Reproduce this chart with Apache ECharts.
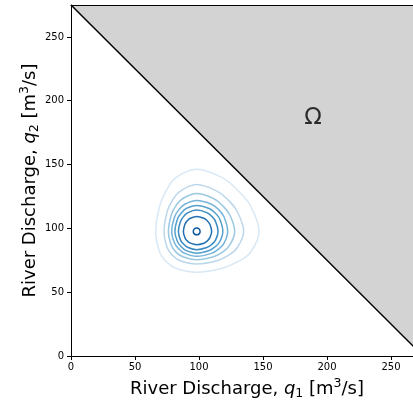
<!DOCTYPE html>
<html>
<head>
<meta charset="utf-8">
<script src="https://cdn.jsdelivr.net/npm/echarts@6/dist/echarts.min.js"></script>
<style>html,body{margin:0;padding:0;background:#fff;}#c{width:413px;height:405px;}</style>
</head>
<body>
<div id="c"></div>
<script>
// ---- data ----
const tickValues = [0, 50, 100, 150, 200, 250];
const axisMax = 275;
const boundary = [[0, 275], [275, 0]];           // q1 + q2 = 275
const omegaPos = [189, 186.5];
const omegaText = 'Ω';

// contour rings (outermost -> innermost), points in [q1, q2]
const ring1 = [[146.9,97.6],[140.3,117.5],[130.3,129.7],[118.1,139.7],[98.2,146.3],[81.9,139.7],[74.5,129.7],[69.3,117.5],[66.2,97.6],[69.3,81.3],[74.5,73.9],[81.9,68.7],[98.2,65.6],[118.1,68.7],[130.3,73.9],[140.3,81.3]];
const ring2 = [[134.9,97.6],[129.8,113.4],[122.8,122.2],[114.0,129.2],[98.2,134.3],[85.4,129.2],[79.4,122.2],[75.2,113.4],[72.7,97.6],[75.2,84.8],[79.4,78.8],[85.4,74.6],[98.2,72.1],[114.0,74.6],[122.8,78.8],[129.8,84.8]];
const ring3 = [[127.9,97.6],[124.0,110.7],[118.4,117.8],[111.3,123.4],[98.2,127.3],[87.4,123.4],[82.0,117.8],[78.4,110.7],[76.1,97.6],[78.4,86.8],[82.0,81.4],[87.4,77.8],[98.2,75.5],[111.3,77.8],[118.4,81.4],[124.0,86.8]];
const ring4 = [[122.4,97.6],[119.5,109.1],[115.3,114.7],[109.7,118.9],[98.2,121.8],[88.9,118.9],[84.4,114.7],[81.0,109.1],[78.7,97.6],[81.0,88.3],[84.4,83.8],[88.9,80.4],[98.2,78.1],[109.7,80.4],[115.3,83.8],[119.5,88.3]];
const ring5 = [[118.6,97.6],[116.2,107.3],[112.6,112.0],[107.9,115.6],[98.2,118.0],[90.1,115.6],[86.2,112.0],[83.2,107.3],[81.2,97.6],[83.2,89.5],[86.2,85.6],[90.1,82.6],[98.2,80.6],[107.9,82.6],[112.6,85.6],[116.2,89.5]];
const ring6 = [[114.9,97.6],[112.9,105.5],[110.0,109.4],[106.1,112.3],[98.2,114.3],[91.4,112.3],[88.1,109.4],[85.6,105.5],[83.9,97.6],[85.6,90.8],[88.1,87.5],[91.4,85.0],[98.2,83.3],[106.1,85.0],[110.0,87.5],[112.9,90.8]];
const ring7 = [[109.9,97.6],[108.5,103.2],[106.5,105.9],[103.8,107.9],[98.2,109.3],[93.3,107.9],[90.8,105.9],[89.0,103.2],[87.8,97.6],[89.0,92.7],[90.8,90.2],[93.3,88.4],[98.2,87.2],[103.8,88.4],[106.5,90.2],[108.5,92.7]];
const ring8 = [[100.85,97.6],[100.1,99.5],[98.2,100.25],[96.3,99.5],[95.55,97.6],[96.3,95.7],[98.2,94.95],[100.1,95.7]];
const rings = [ring1, ring2, ring3, ring4, ring5, ring6, ring7, ring8];
const ringColors = ['#d9e8f5','#bcd7eb','#9ac8e0','#75b4d8','#56a0ce','#3a8ac2','#2171b5','#0d57a1'];

// closed Catmull-Rom path through pixel points
function closedSplinePath(pts) {
  const n = pts.length;
  let d = 'M' + pts[0][0] + ' ' + pts[0][1];
  for (let i = 0; i < n; i++) {
    const p0 = pts[(i - 1 + n) % n], p1 = pts[i], p2 = pts[(i + 1) % n], p3 = pts[(i + 2) % n];
    const c1x = p1[0] + (p2[0] - p0[0]) / 6, c1y = p1[1] + (p2[1] - p0[1]) / 6;
    const c2x = p2[0] - (p3[0] - p1[0]) / 6, c2y = p2[1] - (p3[1] - p1[1]) / 6;
    d += 'C' + c1x + ' ' + c1y + ' ' + c2x + ' ' + c2y + ' ' + p2[0] + ' ' + p2[1];
  }
  return d + 'Z';
}

// ---- chart ----
const FF = 'DejaVu Sans';
const nameRich = {
  q: {fontSize: 18, fontStyle: 'italic', fontFamily: FF, color: '#000'},
  sub: {fontSize: 12.5, padding: [8, 0, 0, 0], fontFamily: FF, color: '#000'},
  sup: {fontSize: 12.5, padding: [0, 0, 12, 0], fontFamily: FF, color: '#000'}
};
const chart = echarts.init(document.getElementById('c'), null, {renderer: 'canvas'});
const axisCommon = {
  type: 'value', min: 0, max: axisMax, interval: 50, z: 5,
  splitLine: {show: false},
  axisLine: {show: true, onZero: false, lineStyle: {color: '#000', width: 1}},
  axisTick: {show: true, length: 4, customValues: tickValues, lineStyle: {color: '#000', width: 1}},
  axisLabel: {customValues: tickValues, fontSize: 10, fontFamily: FF, color: '#000'},
  nameLocation: 'middle',
  nameMoveOverlap: false,
  nameTextStyle: {fontSize: 18, fontFamily: FF, color: '#000', rich: nameRich}
};
chart.setOption({
  animation: false,
  backgroundColor: '#fff',
  grid: {left: 71, width: 352, top: 5, bottom: 49, containLabel: false, outerBoundsMode: 'none'},
  xAxis: [
    Object.assign({}, axisCommon, {
      position: 'bottom',
      name: 'River Discharge, {q|q}{sub|1} [m{sup|3}/s]',
      nameGap: 21,
      axisLabel: Object.assign({}, axisCommon.axisLabel, {margin: 6})
    }),
    {type: 'value', min: 0, max: axisMax, position: 'top', z: 5,
     axisLine: {show: true, onZero: false, lineStyle: {color: '#000', width: 1}},
     axisTick: {show: false}, axisLabel: {show: false}, splitLine: {show: false}}
  ],
  yAxis: Object.assign({}, axisCommon, {
    position: 'left',
    name: 'River Discharge, {q|q}{sub|2} [m{sup|3}/s]',
    nameGap: 28,
    axisLabel: Object.assign({}, axisCommon.axisLabel, {margin: 7})
  }),
  series: [
    {
      type: 'line', data: boundary, showSymbol: false, symbol: 'none',
      lineStyle: {color: '#000', width: 1.5},
      areaStyle: {color: '#d3d3d3', opacity: 1, origin: 'end'},
      silent: true, z: 1
    },
    {
      type: 'custom', z: 3, silent: true,
      data: rings.map((r, i) => [r[0][0], r[0][1], i]),
      renderItem: function (params, api) {
        const idx = api.value(2);
        const pts = rings[idx].map(p => api.coord(p));
        return {
          type: 'path',
          shape: {pathData: closedSplinePath(pts)},
          style: {fill: 'none', stroke: ringColors[idx], lineWidth: 1.5}
        };
      }
    },
    {
      type: 'scatter', data: [omegaPos], symbolSize: 0, silent: true, z: 4,
      label: {show: true, position: 'inside', formatter: omegaText, fontSize: 23, fontFamily: FF, color: '#000'}
    }
  ]
});
</script>
</body>
</html>
